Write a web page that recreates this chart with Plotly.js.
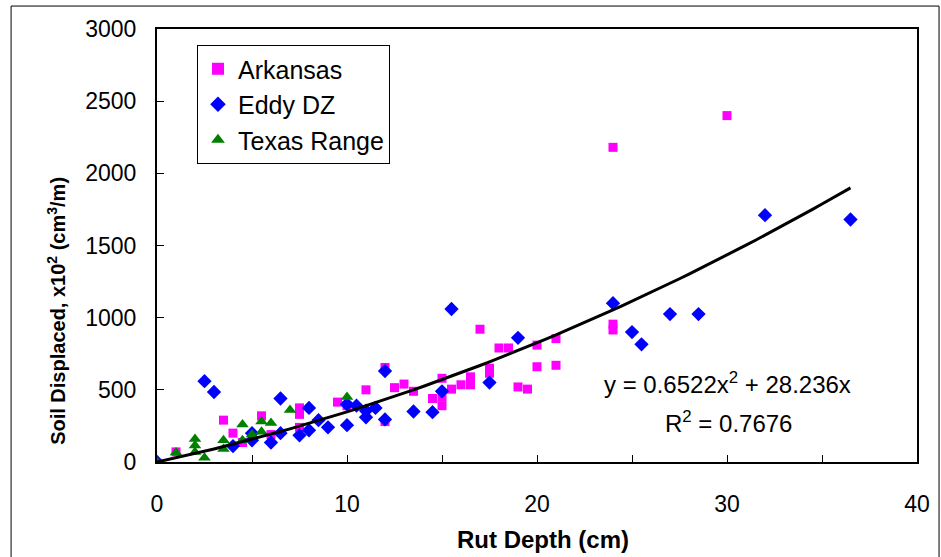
<!DOCTYPE html>
<html>
<head>
<meta charset="utf-8">
<script src="https://cdn.plot.ly/plotly-3.0.1.min.js"></script>
<style>html,body{margin:0;padding:0;background:#fff;}#chart{width:941px;height:557px;}</style>
</head>
<body>
<div id="chart"></div>
<script>
// ---- data ----
const arkansasX = [1, 3.5, 4, 4.5, 5.5, 6, 7.5, 7.5, 7.5, 9.5, 10, 11, 12, 12, 12.5, 13, 13.5, 14.5, 15, 15, 15, 15.5, 16, 16.5, 16.5, 17, 17.5, 17.5, 18, 18.5, 19, 19.5, 20, 20, 21, 21, 24, 24, 24, 30];
const arkansasY = [70, 290, 200, 135, 320, 190, 375, 330, 240, 415, 390, 500, 655, 280, 515, 540, 490, 440, 580, 450, 390, 505, 535, 590, 535, 920, 650, 615, 790, 790, 520, 505, 810, 660, 855, 670, 2180, 955, 915, 2400];

const eddyX = [0, 2.5, 3, 4, 5, 5, 6, 6.5, 6.5, 7.5, 8, 8, 8.5, 9, 10, 10, 10.5, 11, 11, 11.5, 12, 12, 13.5, 14.5, 15, 15.5, 17.5, 19, 24, 25, 25.5, 27, 28.5, 32, 36.5];
const eddyY = [0, 560, 485, 110, 200, 150, 135, 200, 440, 185, 220, 375, 290, 240, 255, 400, 390, 355, 310, 375, 630, 295, 350, 345, 490, 1060, 550, 860, 1100, 900, 815, 1025, 1025, 1710, 1680];

const texasX = [0, 1, 2, 2, 2, 2.5, 3.5, 3.5, 4.5, 4.5, 5, 5.5, 5.5, 6, 7, 10];
const texasY = [0, 65, 160, 115, 70, 30, 150, 90, 260, 150, 190, 280, 210, 270, 360, 450];

// polynomial trendline shown on the chart: y = a*x^2 + b*x
const trendA = 0.6522;
const trendB = 28.236;
const trendXMin = 0, trendXMax = 36.5;

const xTicks = [0, 10, 20, 30, 40];
const yTicks = [0, 500, 1000, 1500, 2000, 2500, 3000];
// --------------------------------------

const trendX = [], trendY = [];
for (let i = 0; i <= 73; i++) {
  const x = trendXMin + (trendXMax - trendXMin) * i / 73;
  trendX.push(x);
  trendY.push(trendA * x * x + trendB * x);
}

const FONT = 'Liberation Sans, Arial, sans-serif';

const traces = [
  {x: arkansasX, y: arkansasY, type: 'scatter', mode: 'markers', name: 'Arkansas',
   marker: {symbol: 'square', color: '#FF00FF', size: 9}},
  {x: eddyX, y: eddyY, type: 'scatter', mode: 'markers', name: 'Eddy DZ',
   marker: {symbol: 'diamond', color: '#0000FF', size: 11}},
  {x: texasX, y: texasY, type: 'scatter', mode: 'markers', name: 'Texas Range',
   marker: {symbol: 'triangle-up', color: '#008000', size: 11}},
  {x: trendX, y: trendY, type: 'scatter', mode: 'lines', showlegend: false,
   line: {color: '#000000', width: 3}, hoverinfo: 'skip'}
];

const layout = {
  width: 941, height: 557,
  margin: {l: 157, r: 24, t: 29, b: 95},
  paper_bgcolor: '#ffffff', plot_bgcolor: '#ffffff',
  font: {family: FONT, color: '#000000', size: 23},
  showlegend: true,
  legend: {
    x: 0.0526, y: 0.963, xanchor: 'left', yanchor: 'top',
    bgcolor: '#ffffff', bordercolor: '#000000', borderwidth: 1,
    font: {family: FONT, size: 25, color: '#000000'},
    itemsizing: 'constant'
  },
  xaxis: {
    range: [0, 40], tickvals: xTicks, ticktext: xTicks.map(String),
    ticks: 'inside', ticklen: 7, tickwidth: 1, tickcolor: '#000',
    minor: {ticks: 'inside', dtick: 5, ticklen: 7, tickwidth: 1, tickcolor: '#000'},
    showline: true, linecolor: '#000', linewidth: 2, mirror: true,
    showgrid: false, zeroline: false,
    ticklabelstandoff: 20,
    tickfont: {family: FONT, size: 23}
  },
  yaxis: {
    range: [0, 3000], tickvals: yTicks, ticktext: yTicks.map(String),
    ticks: 'inside', ticklen: 7, tickwidth: 1, tickcolor: '#000',
    showline: true, linecolor: '#000', linewidth: 2, mirror: true,
    showgrid: false, zeroline: false,
    ticklabelstandoff: 14,
    tickfont: {family: FONT, size: 23}
  },
  annotations: [
    {x: 30.0, y: 547, xref: 'x', yref: 'y', showarrow: false,
     text: 'y = 0.6522x<sup>2</sup> + 28.236x', font: {family: FONT, size: 24, color: '#000'}},
    {x: 30.1, y: 277, xref: 'x', yref: 'y', showarrow: false,
     text: 'R<sup>2</sup> = 0.7676', font: {family: FONT, size: 24, color: '#000'}},
    {x: 0.508, y: -0.18, xref: 'paper', yref: 'paper', showarrow: false,
     xanchor: 'center', yanchor: 'middle',
     text: '<b>Rut Depth (cm)</b>', font: {family: FONT, size: 24, color: '#000'}},
    {x: -0.1316, y: 0.349, xref: 'paper', yref: 'paper', showarrow: false,
     xanchor: 'center', yanchor: 'middle', textangle: -90,
     text: '<b>Soil Displaced, x10<sup>2</sup> (cm<sup>3</sup>/m)</b>', font: {family: FONT, size: 20, color: '#000'}}
  ],
  shapes: [
    {type: 'rect', xref: 'paper', yref: 'paper', x0: -0.192, x1: 1.029, y0: -0.25, y1: 1.053,
     line: {color: '#000', width: 1}, fillcolor: 'rgba(0,0,0,0)', layer: 'below'}
  ]
};

Plotly.newPlot('chart', traces, layout, {displayModeBar: false, staticPlot: true});
</script>
</body>
</html>
